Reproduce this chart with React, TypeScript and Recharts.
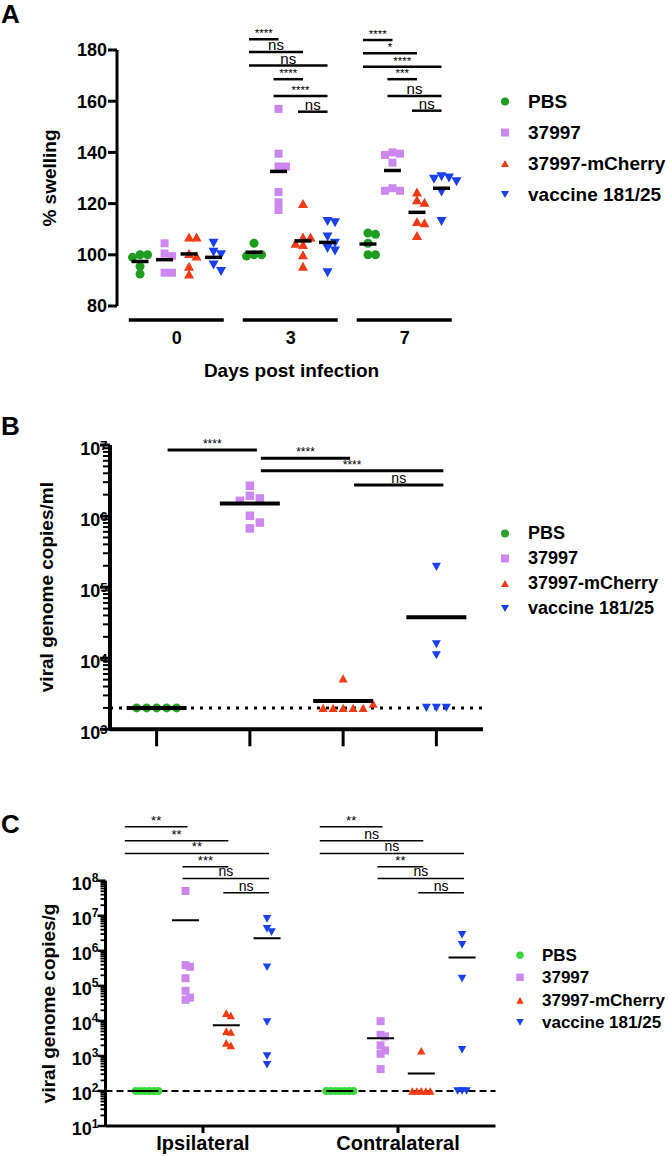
import React from "react";
import { ScatterChart, Scatter, XAxis, YAxis, ReferenceLine, Legend } from "recharts";

const FONT = "'Liberation Sans', Arial, Helvetica, sans-serif";

const groupNames = ["PBS", "37997", "37997-mCherry", "vaccine 181/25"];

// ---- A: % swelling, one list per day (0, 3, 7) ----
const dayLabels = ["0", "3", "7"];
const swellPBS = [
  [100, 100, 99, 95.5, 92.5],
  [104.5, 100, 100, 99.5],
  [108.5, 108, 104.5, 100, 100],
];
const swell37997 = [
  [104.5, 100.5, 99.5, 93, 93],
  [157, 139.5, 134.5, 134.5, 124.5, 120.5, 117.5],
  [140, 139.5, 139, 136, 126, 125, 125],
];
const swellMCherry = [
  [107, 107, 100.5, 99.5, 95.5, 92.5],
  [120, 107, 107, 104.5, 104, 100, 95.5],
  [124.5, 121.5, 120.5, 113, 112.5, 107.5],
];
const swellVaccine = [
  [104.5, 101, 100, 96, 93.5],
  [113, 112.5, 107, 104.5, 102.5, 101.5, 93],
  [130.5, 130, 129.5, 128.5, 124.5, 113],
];
const swellTicks = [80, 100, 120, 140, 160, 180];
// [from group, to group, height, label]
const sigDay3: [number, number, number, string][] = [
  [0, 1, 184.2, "****"],
  [0, 2, 179.2, "ns"],
  [0, 3, 173.9, "ns"],
  [1, 2, 168.6, "****"],
  [1, 3, 162, "****"],
  [2, 3, 155.9, "ns"],
];
const sigDay7: [number, number, number, string][] = [
  [0, 1, 183.9, "****"],
  [0, 2, 178.7, "*"],
  [0, 3, 173.5, "****"],
  [1, 2, 168.6, "***"],
  [1, 3, 162, "ns"],
  [2, 3, 156.3, "ns"],
];

// ---- B: viral genome copies/ml ----
const bloodPBS = [2000, 2000, 2000, 2000, 2000];
const blood37997 = [2.67e6, 1.93e6, 1.77e6, 1.64e6, 1.01e6, 8.1e5, 6.7e5];
const bloodMCherry = [5200, 2000, 2000, 2000, 2000, 2000, 2300];
const bloodVaccine = [1.93e5, 1.57e4, 1.1e4, 2000, 2000, 2000];
const bloodLimit = 2000;
const bloodDecades = [3, 4, 5, 6, 7];
const sigBlood: [number, number, number, string][] = [
  [0, 1, 8.5e6, "****"],
  [1, 2, 6.5e6, "****"],
  [1, 3, 4.35e6, "****"],
  [2, 3, 2.73e6, "ns"],
];

// ---- C: viral genome copies/g, one list per side ----
const sideLabels = ["Ipsilateral", "Contralateral"];
const tissuePBS = [
  [100, 100, 100, 100, 100, 100],
  [100, 100, 100, 100, 100, 100, 100],
];
const tissue37997 = [
  [5.1e7, 3.9e5, 3.5e5, 1.65e5, 7.2e4, 4.6e4, 4.0e4],
  [9.8e3, 4.0e3, 3.6e3, 2.0e3, 1.43e3, 1.15e3, 420],
];
const tissueMCherry = [
  [1.66e4, 1.42e4, 5.1e3, 4.8e3, 2.35e3, 2.0e3],
  [1.4e3, 100, 100, 100, 100, 100],
];
const tissueVaccine = [
  [8.1e6, 4.2e6, 3.4e6, 3.4e5, 9.2e3, 988, 560],
  [2.84e6, 1.47e6, 1.6e5, 1.5e3, 100, 100, 100],
];
const tissueLimit = 100;
const tissueDecades = [1, 2, 3, 4, 5, 6, 7, 8];
const sigIpsi: [number, number, number, string][] = [
  [0, 1, 3.46e9, "**"],
  [0, 2, 1.38e9, "**"],
  [0, 3, 6.0e8, "**"],
  [1, 2, 2.5e8, "***"],
  [1, 3, 1.16e8, "ns"],
  [2, 3, 4.55e7, "ns"],
];
const sigContra: [number, number, number, string][] = [
  [0, 1, 3.46e9, "**"],
  [0, 2, 1.38e9, "ns"],
  [0, 3, 6.0e8, "ns"],
  [1, 2, 2.5e8, "**"],
  [1, 3, 1.16e8, "ns"],
  [2, 3, 4.55e7, "ns"],
];

// ---------- helpers ----------
const mean = (a: number[]) => a.reduce((s, v) => s + v, 0) / a.length;

// simple column beeswarm, returns x offsets in px
function swarm(vals: number[], toPx: (v: number) => number, step: number, sizeY: number) {
  const placed: { x: number; y: number }[] = [];
  return vals.map((v) => {
    const y = toPx(v);
    let off = 0;
    for (let i = 0; i < 40; i++) {
      const cand = Math.ceil(i / 2) * (i % 2 ? 1 : -1) * step;
      if (!placed.some((p) => Math.abs(p.x - cand) < step * 0.5 && Math.abs(p.y - y) < sizeY)) {
        off = cand;
        break;
      }
    }
    placed.push({ x: off, y });
    return off;
  });
}

function makeSeries(sets: number[][], j: number, pos: any, toPx: any, step: number, sizeY: number, pxPerX: number) {
  return sets.flatMap((vals, g) => {
    const offs = swarm(vals, toPx, step, sizeY);
    return vals.map((v, i) => ({ x: pos(g, j) + offs[i] / pxPerX, y: v }));
  });
}

function Marker({ kind, cx, cy, s, color }: any) {
  if (cx == null || cy == null) return null;
  const h = s * 0.9;
  if (kind === 0) return <circle cx={cx} cy={cy} r={s / 2} fill={color} />;
  if (kind === 1) return <rect x={cx - s / 2} y={cy - s / 2} width={s} height={s} fill={color} />;
  if (kind === 2)
    return <polygon points={`${cx - s / 2},${cy + h / 2} ${cx + s / 2},${cy + h / 2} ${cx},${cy - h / 2}`} fill={color} />;
  return <polygon points={`${cx - s / 2},${cy - h / 2} ${cx + s / 2},${cy - h / 2} ${cx},${cy + h / 2}`} fill={color} />;
}

const meanShape = (w: number, t: number) => (p: any) =>
  <line x1={p.cx - w / 2} x2={p.cx + w / 2} y1={p.cy} y2={p.cy} stroke="#000" strokeWidth={t} />;

function brackets(list: [number, number, number, string][], g: number, pos: any, fromPx: (a: number) => number,
  toPx: number, pxPerX: number, sw: number, fsStar: number, fsNs: number) {
  return list.map(([a, b, h, lab], k) => (
    <ReferenceLine
      key={`br-${g}-${k}`}
      ifOverflow="visible"
      stroke="#000"
      strokeWidth={sw}
      segment={[
        { x: pos(g, a) + fromPx(a) / pxPerX, y: h },
        { x: pos(g, b) + toPx / pxPerX, y: h },
      ]}
      label={{ value: lab, position: "top", offset: 2, fill: "#000", fontSize: lab === "ns" ? fsNs : fsStar, fontFamily: FONT }}
    />
  ));
}

function LegendBox({ colors, fs, rowH, markW, gap, size }: any) {
  return (
    <div style={{ fontFamily: FONT, fontWeight: "bold", fontSize: fs, color: "#000" }}>
      {groupNames.map((n, j) => (
        <div key={n} style={{ display: "flex", alignItems: "center", height: rowH, whiteSpace: "nowrap" }}>
          <svg width={markW} height={rowH}>
            <Marker kind={j} cx={markW / 2} cy={rowH / 2} s={size} color={colors[j]} />
          </svg>
          <span style={{ marginLeft: gap, lineHeight: 1 }}>{n}</span>
        </div>
      ))}
    </div>
  );
}

function logTicks(decades: number[]) {
  const out: number[] = [];
  decades.forEach((e, i) => {
    out.push(Math.pow(10, e));
    if (i < decades.length - 1) for (let m = 2; m < 10; m++) out.push(m * Math.pow(10, e));
  });
  return out;
}

function logTick(p: any, c: any) {
  const { x, y, payload } = p;
  const e = Math.log10(payload.value);
  const major = Math.abs(e - Math.round(e)) < 1e-6;
  return (
    <g>
      <line x1={x - (major ? c.major : c.minor)} x2={x} y1={y} y2={y} stroke="#000" strokeWidth={major ? c.sw : c.swMinor} />
      {major && (
        <text x={x - c.gap} y={y + c.dy} textAnchor="end" fontFamily={FONT} fontWeight="bold" fontSize={c.fs} fill="#000">
          10
          <tspan fontSize={c.sup} dy={c.supDy}>
            {Math.round(e)}
          </tspan>
        </text>
      )}
    </g>
  );
}

const yLabel = (text: string, x: number, fs: number) => (p: any) => {
  const vb = p.viewBox;
  const cy = vb.y + vb.height / 2;
  return (
    <text x={x} y={cy} transform={`rotate(-90 ${x} ${cy})`} textAnchor="middle" dominantBaseline="central"
      fontFamily={FONT} fontWeight="bold" fontSize={fs} fill="#000">
      {text}
    </text>
  );
};

// ---------- Panel A ----------
const colorsA = ["#1f9d1f", "#cc88ee", "#f23a14", "#1a40f0"];
const sizesA = [9, 8, 10, 10];
const PX_A = 24.51;
const GAP_A = 4.65;
const posA = (g: number, j: number) => g * GAP_A + j;
const toPxA = (v: number) => -v * 2.56;

function DayTick(props: any) {
  const { x, y, index } = props;
  return (
    <g>
      <line x1={x - 48} x2={x + 47} y1={y + 14} y2={y + 14} stroke="#000" strokeWidth={3.5} />
      <text x={x} y={y + 38} textAnchor="middle" fontFamily={FONT} fontWeight="bold" fontSize={18} fill="#000">
        {dayLabels[index]}
      </text>
    </g>
  );
}

function PanelA() {
  const sets = [swellPBS, swell37997, swellMCherry, swellVaccine];
  const means = sets.flatMap((s, j) => s.map((vals, g) => ({ x: posA(g, j), y: mean(vals) })));
  const fromA = () => -5;
  return (
    <ScatterChart width={669} height={400} margin={{ top: 50, right: 203, bottom: 34, left: 0 }}>
      <XAxis
        type="number"
        dataKey="x"
        domain={[-0.94, 13.3]}
        allowDataOverflow
        ticks={dayLabels.map((_, g) => posA(g, 1.5))}
        interval={0}
        axisLine={false}
        tickLine={false}
        tickSize={0}
        tickMargin={0}
        tick={(p: any) => <DayTick {...p} />}
        height={60}
        label={(p: any) => (
          <text x={p.viewBox.x + p.viewBox.width / 2} y={p.viewBox.y + 70.5} textAnchor="middle"
            fontFamily={FONT} fontWeight="bold" fontSize={19} fill="#000">
            Days post infection
          </text>
        )}
      />
      <YAxis
        type="number"
        dataKey="y"
        domain={[80, 180]}
        allowDataOverflow
        ticks={swellTicks}
        interval={0}
        width={117}
        axisLine={{ stroke: "#000", strokeWidth: 3 }}
        tickLine={{ stroke: "#000", strokeWidth: 3 }}
        tickSize={9}
        tickMargin={1}
        tick={{ fill: "#000", fontSize: 18, fontWeight: "bold", fontFamily: FONT }}
        label={yLabel("% swelling", 49, 19)}
      />
      {sets.map((s, j) => (
        <Scatter
          key={groupNames[j]}
          name={groupNames[j]}
          data={makeSeries(s, j, posA, toPxA, 7.5, 7, PX_A)}
          fill={colorsA[j]}
          isAnimationActive={false}
          shape={(p: any) => <Marker kind={j} cx={p.cx} cy={p.cy} s={sizesA[j]} color={colorsA[j]} />}
        />
      ))}
      <Scatter name="mean" data={means} fill="#000" isAnimationActive={false} shape={meanShape(17, 3.5)} legendType="none" />
      {brackets(sigDay3, 1, posA, fromA, 0, PX_A, 2.5, 11.5, 15)}
      {brackets(sigDay7, 2, posA, fromA, 0, PX_A, 2.5, 11.5, 15)}
      <Legend
        layout="horizontal"
        verticalAlign="middle"
        align="center"
        wrapperStyle={{ left: 495, top: 86.2, width: 174 }}
        content={() => <LegendBox colors={colorsA} fs={19} rowH={31} markW={20} gap={13} size={8} />}
      />
    </ScatterChart>
  );
}

// ---------- Panel B ----------
const colorsB = ["#2aa52a", "#cc88ee", "#f23a14", "#1a40f0"];
const sizesB = [9, 8.5, 9, 9];
const PX_B = 93.25;
const posB = (_g: number, j: number) => j;
const toPxB = (v: number) => -Math.log10(v) * 71.1;
const tickCfgB = { major: 10, minor: 7, sw: 3, swMinor: 2, gap: 2.5, dy: 10, fs: 18, sup: 13, supDy: -5 };

function PanelB() {
  const sets = [bloodPBS, blood37997, bloodMCherry, bloodVaccine];
  const means = sets.map((vals, j) => ({ x: posB(0, j), y: mean(vals) }));
  return (
    <ScatterChart width={669} height={380} margin={{ top: 45, right: 186, bottom: 20.7, left: 0 }}>
      <XAxis
        type="number"
        dataKey="x"
        domain={[-0.5, 3.5]}
        allowDataOverflow
        ticks={groupNames.map((_, j) => j)}
        interval={0}
        tickSize={17}
        tickLine={{ stroke: "#000", strokeWidth: 3 }}
        axisLine={{ stroke: "#000", strokeWidth: 4 }}
        tickFormatter={() => ""}
        height={30}
      />
      <YAxis
        type="number"
        dataKey="y"
        scale="log"
        domain={[1e3, 1e7]}
        allowDataOverflow
        ticks={logTicks(bloodDecades)}
        interval={0}
        width={110}
        tickSize={0}
        tickMargin={0}
        tickLine={false}
        axisLine={{ stroke: "#000", strokeWidth: 4 }}
        tick={(p: any) => logTick(p, tickCfgB)}
        label={yLabel("viral genome copies/ml", 47, 19)}
      />
      <ReferenceLine y={bloodLimit} stroke="#000" strokeWidth={3} strokeDasharray="3 6" />
      {sets.map((vals, j) => (
        <Scatter
          key={groupNames[j]}
          name={groupNames[j]}
          data={makeSeries([vals], j, posB, toPxB, 10, 8, PX_B)}
          fill={colorsB[j]}
          isAnimationActive={false}
          shape={(p: any) => <Marker kind={j} cx={p.cx} cy={p.cy} s={sizesB[j]} color={colorsB[j]} />}
        />
      ))}
      <Scatter name="mean" data={means} fill="#000" isAnimationActive={false} shape={meanShape(60, 4)} legendType="none" />
      {brackets(sigBlood, 0, (_g: number, j: number) => j, () => 11, 7, PX_B, 3, 12, 14)}
      <Legend
        layout="horizontal"
        verticalAlign="middle"
        align="center"
        wrapperStyle={{ left: 495, top: 120.5, width: 174 }}
        content={() => <LegendBox colors={colorsB} fs={18} rowH={25} markW={20} gap={13} size={8} />}
      />
    </ScatterChart>
  );
}

// ---------- Panel C ----------
const colorsC = ["#3ad83a", "#cc88ee", "#f23a14", "#1a40f0"];
const sizesC = [8, 8, 8.5, 8.5];
const PX_C = 195;
const posC = (g: number, j: number) => g + (j - 1.5) * 0.209 + 0.015;
const toPxC = (v: number) => -Math.log10(v) * 35.04;
const tickCfgC = { major: 8, minor: 5, sw: 2.5, swMinor: 1.8, gap: 7, dy: 9, fs: 18, sup: 12, supDy: -7.5 };

function PanelC() {
  const sets = [tissuePBS, tissue37997, tissueMCherry, tissueVaccine];
  const means = sets.flatMap((s, j) => s.map((vals, g) => ({ x: posC(g, j), y: mean(vals) })));
  const fromC = (a: number) => (a === 0 ? -20 : -3);
  return (
    <ScatterChart width={669} height={376} margin={{ top: 100.7, right: 173.5, bottom: 0, left: 0 }}>
      <XAxis
        type="number"
        dataKey="x"
        domain={[-0.5, 1.5]}
        allowDataOverflow
        ticks={sideLabels.map((_, g) => g)}
        interval={0}
        tickSize={7}
        tickMargin={3}
        tickLine={{ stroke: "#000", strokeWidth: 3 }}
        axisLine={{ stroke: "#000", strokeWidth: 3 }}
        tickFormatter={(v: number) => sideLabels[v] ?? ""}
        tick={{ fill: "#000", fontSize: 20, fontWeight: "bold", fontFamily: FONT }}
        height={30}
      />
      <YAxis
        type="number"
        dataKey="y"
        scale="log"
        domain={[10, 1e8]}
        allowDataOverflow
        ticks={logTicks(tissueDecades)}
        interval={0}
        width={105.5}
        tickSize={0}
        tickMargin={0}
        tickLine={false}
        axisLine={{ stroke: "#000", strokeWidth: 3 }}
        tick={(p: any) => logTick(p, tickCfgC)}
        label={yLabel("viral genome copies/g", 49, 19)}
      />
      <ReferenceLine y={tissueLimit} stroke="#000" strokeWidth={2} strokeDasharray="7 4" />
      {sets.map((s, j) => (
        <Scatter
          key={groupNames[j]}
          name={groupNames[j]}
          data={makeSeries(s, j, posC, toPxC, 4.5, 8, PX_C)}
          fill={colorsC[j]}
          isAnimationActive={false}
          shape={(p: any) => <Marker kind={j} cx={p.cx} cy={p.cy} s={sizesC[j]} color={colorsC[j]} />}
        />
      ))}
      <Scatter name="mean" data={means} fill="#000" isAnimationActive={false} shape={meanShape(27, 2)} legendType="none" />
      {brackets(sigIpsi, 0, posC, fromC, 2, PX_C, 1.6, 13, 14)}
      {brackets(sigContra, 1, posC, fromC, 2, PX_C, 1.6, 13, 14)}
      <Legend
        layout="horizontal"
        verticalAlign="middle"
        align="center"
        wrapperStyle={{ left: 510, top: 163.75, width: 159 }}
        content={() => <LegendBox colors={colorsC} fs={17} rowH={22.5} markW={20} gap={12} size={7.5} />}
      />
    </ScatterChart>
  );
}

export default function App() {
  return (
    <div style={{ position: "absolute", left: 0, top: 0, width: 669, height: 1156, background: "#fff", fontFamily: FONT }}>
      <div style={{ position: "absolute", left: 0, top: 0 }}>
        <PanelA />
      </div>
      <div style={{ position: "absolute", left: 0, top: 400 }}>
        <PanelB />
      </div>
      <div style={{ position: "absolute", left: 0, top: 780 }}>
        <PanelC />
      </div>
      <svg width={669} height={1156} style={{ position: "absolute", left: 0, top: 0, pointerEvents: "none" }}>
        <g fontFamily={FONT} fontWeight="bold" fontSize={26} fill="#000">
          <text x={1} y={23}>A</text>
          <text x={1} y={435}>B</text>
          <text x={1} y={833}>C</text>
        </g>
      </svg>
    </div>
  );
}
